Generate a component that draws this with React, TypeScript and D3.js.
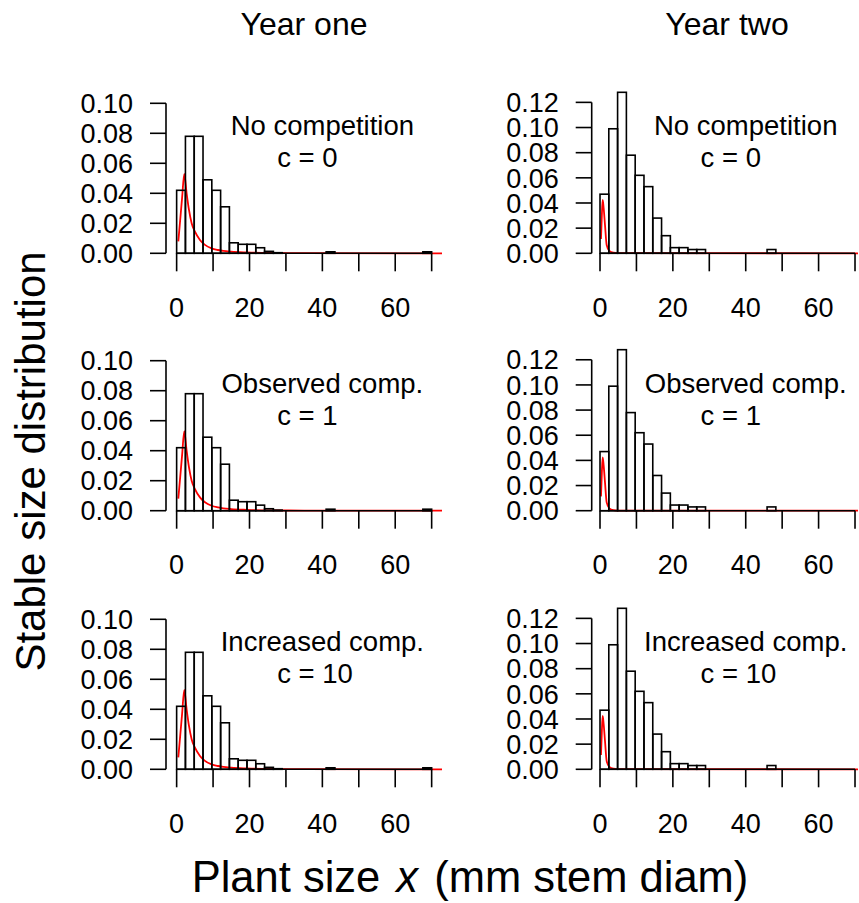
import React from "react";
import * as d3 from "d3";

// ---------- data ----------
const yearTitles = ["Year one", "Year two"];
const rowLabels = ["No competition", "Observed comp.", "Increased comp."];
const cLabels = ["c = 0", "c = 1", "c = 10"];

const binCount = 29;
const binMax = 70;

// observed histogram densities (29 bins from 0 to 70)
const yearOneHist = [
  0.042, 0.078, 0.078, 0.049, 0.042, 0.031, 0.007, 0.006, 0.006, 0.0037, 0.0013, 0.0004,
  0, 0, 0, 0, 0, 0.001, 0, 0, 0, 0, 0, 0, 0, 0, 0, 0, 0.001,
];
const yearTwoHist = [
  0.047, 0.099, 0.128, 0.078, 0.062, 0.053, 0.028, 0.014, 0.0045, 0.0045, 0.003, 0.003,
  0, 0, 0, 0, 0, 0, 0, 0.003, 0, 0, 0, 0, 0, 0, 0, 0, 0,
];

// model stable size distribution (red curve)
const yearOneCurveX = [0.46, 1.0, 1.5, 2.1, 2.74, 3.39, 4.12, 5.03, 6.4, 7.78, 9.61, 11.4, 12.8, 15, 19.2, 25, 35, 74];
const yearOneCurveY = [0.008, 0.023, 0.037, 0.053, 0.04, 0.0289, 0.02, 0.0144, 0.0089, 0.0056, 0.0033, 0.0022, 0.0016, 0.0011, 0.0006, 0.0002, 0.0001, 0];
const yearTwoCurveX = [0.27, 0.5, 0.73, 1.0, 1.37, 1.83, 2.56, 3.66, 5, 72];
const yearTwoCurveY = [0.0114, 0.03, 0.0424, 0.036, 0.0225, 0.0066, 0.0019, 0.0005, 0.0001, 0];

const yearOneYTicks = [0, 0.02, 0.04, 0.06, 0.08, 0.1];
const yearTwoYTicks = [0, 0.02, 0.04, 0.06, 0.08, 0.1, 0.12];
const xTickValues = [0, 10, 20, 30, 40, 50, 60, 70];
const xTickLabels = [0, 20, 40, 60];

// ---------- layout ----------
const W = 859;
const H = 903;
const FONT = "'Liberation Sans', Arial, Helvetica, sans-serif";
const colLeft = [166, 591.7];
const colRight = [442, 858];
const colXDomain: [number, number][] = [
  [-2.92, 72.84],
  [-2.28, 70.82],
];
const colYMax = [0.108, 0.1288];
const rowBase = [253.3, 510.7, 769.3];
const plotH = 162;

const histByCol = [yearOneHist, yearTwoHist];
const curveXByCol = [yearOneCurveX, yearTwoCurveX];
const curveYByCol = [yearOneCurveY, yearTwoCurveY];
const yTicksByCol = [yearOneYTicks, yearTwoYTicks];

function Panel({ col, row }: { col: number; row: number }) {
  const x = d3.scaleLinear().domain(colXDomain[col]).range([colLeft[col], colRight[col]]);
  const y = d3.scaleLinear().domain([0, colYMax[col]]).range([rowBase[row], rowBase[row] - plotH]);
  const hist = histByCol[col];
  const bw = binMax / binCount;
  const cx = curveXByCol[col];
  const cy = curveYByCol[col];
  const pts: [number, number][] = cx.map((v, i) => [v, cy[i]]);
  const line = d3
    .line<[number, number]>()
    .x((d) => x(d[0]))
    .y((d) => y(d[1]))
    .curve(d3.curveMonotoneX);
  const yTicks = yTicksByCol[col];
  const clipId = `clip-${col}-${row}`;
  const y0 = y(0);
  const tickLenY = 16;
  const tickLenX = 18;
  return (
    <g>
      <defs>
        <clipPath id={clipId}>
          <rect x={colLeft[col]} y={rowBase[row] - plotH - 20} width={colRight[col] - colLeft[col]} height={plotH + 30} />
        </clipPath>
      </defs>
      {/* red model curve */}
      <path d={line(pts) || ""} fill="none" stroke="#ff0000" strokeWidth={1.8} clipPath={`url(#${clipId})`} />
      {/* histogram */}
      {hist.map((v, i) => (
        <rect
          key={i}
          x={x(i * bw)}
          y={y(v)}
          width={x((i + 1) * bw) - x(i * bw)}
          height={y0 - y(v)}
          fill="none"
          stroke="#000"
          strokeWidth={1.6}
        />
      ))}
      {/* y axis */}
      <line x1={colLeft[col]} x2={colLeft[col]} y1={y(0)} y2={y(yTicks[yTicks.length - 1])} stroke="#000" strokeWidth={1.6} />
      {yTicks.map((t) => (
        <g key={t}>
          <line x1={colLeft[col] - tickLenY} x2={colLeft[col]} y1={y(t)} y2={y(t)} stroke="#000" strokeWidth={1.6} />
          <text
            x={colLeft[col] - tickLenY - 17}
            y={y(t)}
            dy="0.36em"
            textAnchor="end"
            fontSize={27}
            fontFamily={FONT}
          >
            {d3.format(".2f")(t)}
          </text>
        </g>
      ))}
      {/* x axis */}
      <line x1={x(0)} x2={x(70)} y1={y0} y2={y0} stroke="#000" strokeWidth={1.6} />
      {xTickValues.map((t) => (
        <line key={t} x1={x(t)} x2={x(t)} y1={y0} y2={y0 + tickLenX} stroke="#000" strokeWidth={1.6} />
      ))}
      {xTickLabels.map((t) => (
        <text key={t} x={x(t)} y={y0 + 63.5} textAnchor="middle" fontSize={27} fontFamily={FONT}>
          {t}
        </text>
      ))}
      {/* annotations */}
      <text x={x(40)} y={y0 - 118} textAnchor="middle" fontSize={27.5} fontFamily={FONT}>
        {rowLabels[row]}
      </text>
      <text x={x(27.6)} y={y0 - 86} textAnchor="start" fontSize={27.5} fontFamily={FONT}>
        {cLabels[row]}
      </text>
    </g>
  );
}

export default function App() {
  return (
    <svg
      width={W}
      height={H}
      viewBox={`0 0 ${W} ${H}`}
      style={{ position: "absolute", left: 0, top: 0, display: "block", background: "#fff" }}
    >
      <rect x={0} y={0} width={W} height={H} fill="#fff" />
      {yearTitles.map((t, c) => (
        <text key={t} x={[304, 727][c]} y={35} textAnchor="middle" fontSize={32} fontFamily={FONT}>
          {t}
        </text>
      ))}
      {[0, 1].map((c) => [0, 1, 2].map((r) => <Panel key={`${c}-${r}`} col={c} row={r} />))}
      <text
        transform="translate(45,461.5) rotate(-90)"
        textAnchor="middle"
        fontSize={42}
        fontFamily={FONT}
      >
        Stable size distribution
      </text>
      <text x={470} y={892} textAnchor="middle" fontSize={43.5} fontFamily={FONT} xmlSpace="preserve">
        <tspan>Plant size </tspan>
        <tspan fontStyle="italic" dx={4}>x</tspan>
        <tspan dx={4}> (mm stem diam)</tspan>
      </text>
    </svg>
  );
}
